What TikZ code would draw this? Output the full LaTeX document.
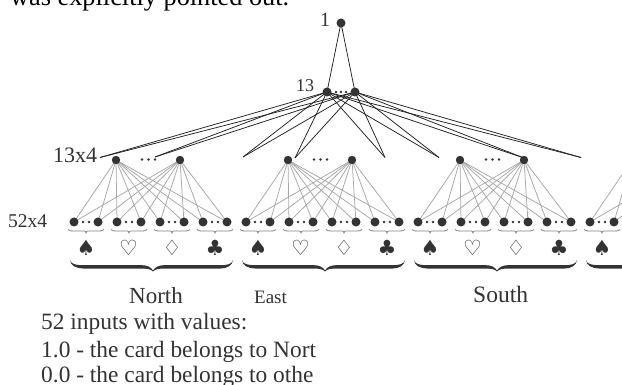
\documentclass[tikz,border=0pt]{standalone}
\usepackage{fontspec}
\setmainfont{Liberation Serif}
\newfontfamily\symfont{DejaVu Sans}
\definecolor{ink}{HTML}{333333}
\definecolor{wire}{HTML}{A8A8A8}
\definecolor{edge}{HTML}{222222}
\pgfdeclarelayer{lines}
\pgfsetlayers{lines,main}
\tikzset{
  dotA/.style={circle,fill=ink,inner sep=0pt,minimum size=9pt},
  dotB/.style={circle,fill=ink,inner sep=0pt,minimum size=8.4pt},
  minidot/.style={circle,fill=ink,inner sep=0pt,minimum size=2.8pt},
  lab/.style={anchor=base west,inner sep=0pt,text=ink},
  suit/.style={inner sep=0pt,text=ink,font=\symfont\fontsize{21}{21}\selectfont},
  greyline/.style={draw=wire,line width=0.75pt},
  blackline/.style={draw=edge,line width=0.75pt},
  bigbrace/.pic={
    \fill[ink] (0,0) .. controls (1,4) and (5,5.2) .. (14,5.2) -- (72,5.2)
      .. controls (77,5.2) and (81,7) .. (83,10.5) .. controls (85,7) and (89,5.2) .. (94,5.2)
      -- (150,5.2) .. controls (158,5.2) and (162,4) .. (163,0)
      .. controls (162,6) and (158,8) .. (150,8.6) -- (94,8.6)
      .. controls (89,8.6) and (85,9) .. (83,11.5) .. controls (81,9) and (77,8.6) .. (72,8.6)
      -- (14,8.6) .. controls (5,8) and (1,6) .. (0,0) -- cycle;
  },
  smallbrace/.pic={
    \draw[wire!70!ink,line width=0.8pt] (-18,-1.5) .. controls (-17,0) and (-15,0) .. (-12,0) -- (-2,0)
      .. controls (-1,0) and (0,0.5) .. (0,2) .. controls (0,0.5) and (1,0) .. (2,0) -- (12,0)
      .. controls (15,0) and (17,0) .. (18,-1.5);
  }
}
\begin{document}
\begin{tikzpicture}[x=1pt,y=-1pt]
\useasboundingbox (0,0) rectangle (622,385);
\begin{pgfonlayer}{lines}
\fill[white] (0,0) rectangle (622,385);
\end{pgfonlayer}
\clip (0,0) rectangle (622,385);

% input nodes, group tops
\foreach \g/\o in {1/0,2/172,3/344,4/516}{
  \node[dotB] (t\g a) at (116+\o,160) {};
  \node[dotB] (t\g b) at (180+\o,160) {};
  \foreach \k/\x in {1/74,2/98,3/117,4/141,5/160,6/184,7/203,8/227}{
    \node[dotA] (i\g\k) at (\x+\o,222) {};
  }
  \begin{pgfonlayer}{lines}
  \clip (0,0) rectangle (622,385);
  \foreach \k in {1,...,8}{
    \draw[greyline] (t\g a.center) -- (i\g\k.center);
    \draw[greyline] (t\g b.center) -- (i\g\k.center);
  }
  \end{pgfonlayer}
  \foreach \x in {86,129,172,215}{
    \pic at (\x+\o,231) {smallbrace};
    \node[minidot] at (\x-3+\o,222) {};
    \node[minidot] at (\x+3+\o,222) {};
  }
  \pic at (70+\o,260) {bigbrace};
}
\foreach \g/\o in {1/0,2/172,3/344}{
  \foreach \x in {142,148.5,155}{\node[minidot] at (\x+\o,159.5) {};}
  \node[suit] (sa\g) at (86+\o,248) {♠};
  \node[suit] (sb\g) at (128.5+\o,248) {♡};
  \node[suit] (sc\g) at (172+\o,248) {♢};
  \node[suit] (sd\g) at (215+\o,248) {♣};
}
\node[suit] (sa4) at (602,248) {♠};

% upper layers
\node[dotA] (root) at (341,23) {};
\node[dotA] (h1) at (327,92) {};
\node[dotA] (h2) at (355,92) {};
\foreach \x in {336,341,346}{\node[minidot] at (\x,92) {};}

\coordinate (e1) at (100,157.5);
\coordinate (e2) at (155,157);
\coordinate (e3) at (243,157);
\coordinate (e4) at (295,158);
\coordinate (e5) at (385,157.5);
\coordinate (e6) at (439,157.5);
\coordinate (e7) at (524,158);
\coordinate (e8) at (581,157.5);
\begin{pgfonlayer}{lines}
\draw[blackline] (root.center) -- (h1.center);
\draw[blackline] (root.center) -- (h2.center);
\foreach \n in {1,...,8}{
  \draw[blackline] (h1.center) -- (e\n);
  \draw[blackline] (h2.center) -- (e\n);
}
\end{pgfonlayer}

% texts
\node[lab,text=black,font=\fontsize{26.3}{26}\selectfont] (top) at (10,6) {was explicitly pointed out.};
\node[lab,font=\fontsize{20}{20}\selectfont] (l1) at (320,27) {1};
\node[lab,font=\fontsize{18}{18}\selectfont] (l13) at (296,92) {13};
\node[lab,font=\fontsize{22}{22}\selectfont] (l134) at (53,163) {13x4};
\node[lab,font=\fontsize{19.5}{20}\selectfont] (l524) at (8,228) {52x4};
\node[lab,font=\fontsize{23}{23}\selectfont] (north) at (129,304) {North};
\node[lab,font=\fontsize{19}{19}\selectfont] (east) at (254,303) {East};
\node[lab,font=\fontsize{23.5}{23}\selectfont] (south) at (473,302) {South};
\begin{scope}
\clip (0,310) rectangle (315,385);
\node[lab,font=\fontsize{23.4}{23}\selectfont] (t1) at (41,330) {52 inputs with values:};
\node[lab,font=\fontsize{23.4}{23}\selectfont] (t2) at (41,357) {1.0 - the card belongs to Nort};
\node[lab,font=\fontsize{23.4}{23}\selectfont] (t3) at (41,382) {0.0 - the card belongs to othe};
\end{scope}
\end{tikzpicture}
\end{document}
